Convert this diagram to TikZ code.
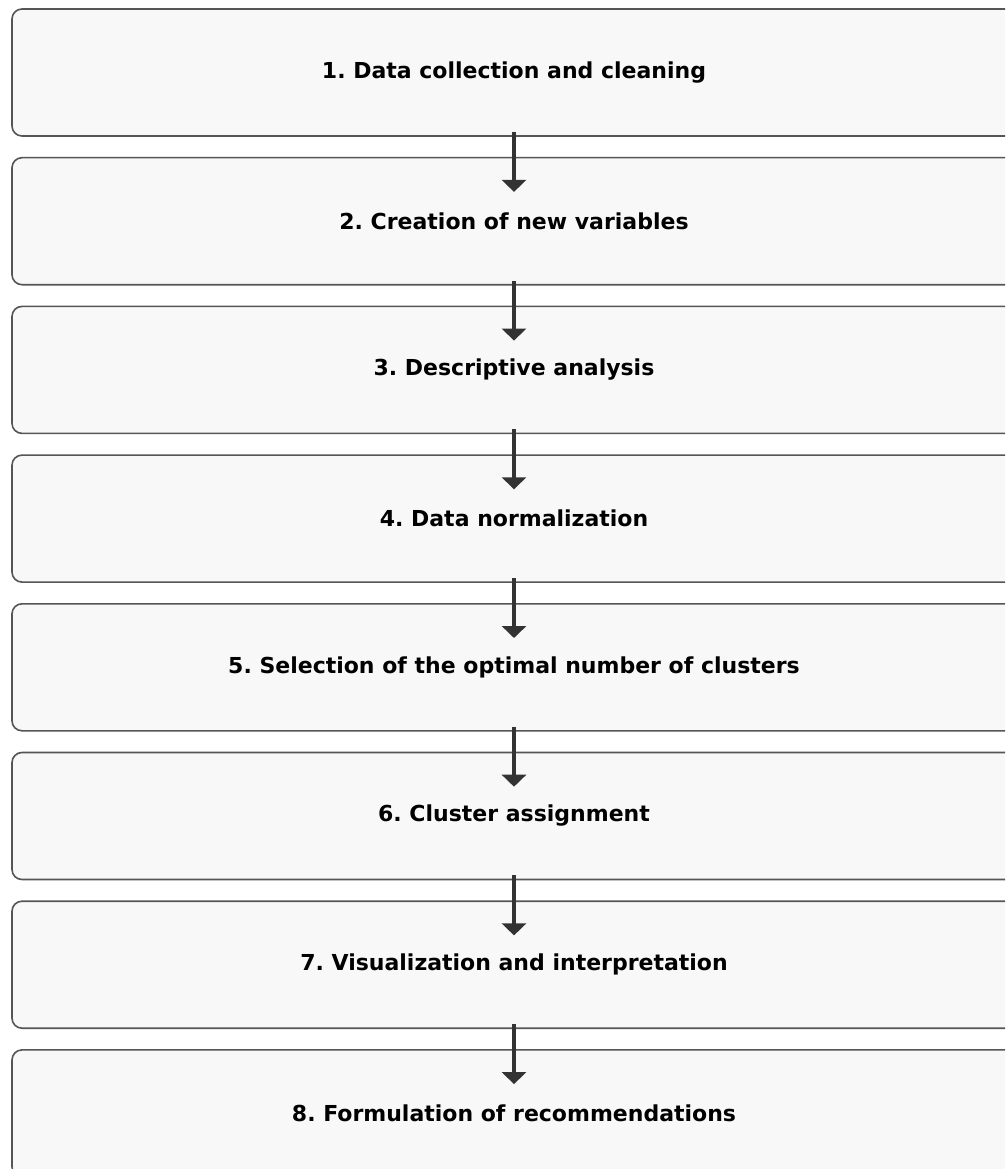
\documentclass[tikz,border=0pt]{standalone}
\usepackage{fontspec}
\setmainfont{DejaVu Sans}
\frenchspacing
\usepackage{tikz}
\usetikzlibrary{arrows.meta, positioning, shapes}
\definecolor{boxfill}{HTML}{F8F8F8}
\definecolor{boxline}{HTML}{555555}
\definecolor{arrowcol}{HTML}{333333}
\tikzstyle{process} = [rectangle, rounded corners=10pt, minimum width=1004pt, minimum height=127pt, text centered, draw=boxline, line width=1.6pt, fill=boxfill, font=\fontsize{22}{26}\selectfont\bfseries]
\tikzstyle{arrow} = [line width=4pt, draw=arrowcol, -{Triangle[width=24pt,length=12pt]}]

\begin{document}
\begin{tikzpicture}[x=1pt, y=1pt, node distance=148.7pt]
\clip (0,0) rectangle (1005,-1169);
\fill[white] (0,0) rectangle (1005,-1169);
\node (collect) [process] at (514,-72.5) {1. Data collection and cleaning};
\node (newvars) [process, below of=collect] {2. Creation of new variables};
\node (descr) [process, below of=newvars] {3. Descriptive analysis};
\node (norm) [process, below of=descr] {4. Data normalization};
\node (nclust) [process, below of=norm] {5. Selection of the optimal number of clusters};
\node (assign) [process, below of=nclust] {6. Cluster assignment};
\node (visual) [process, below of=assign] {7. Visualization and interpretation};
\node (recomm) [process, below of=visual] {8. Formulation of recommendations};
\draw [arrow] ([yshift=5pt]collect.south) -- ([yshift=-35pt]newvars.north);
\draw [arrow] ([yshift=5pt]newvars.south) -- ([yshift=-35pt]descr.north);
\draw [arrow] ([yshift=5pt]descr.south) -- ([yshift=-35pt]norm.north);
\draw [arrow] ([yshift=5pt]norm.south) -- ([yshift=-35pt]nclust.north);
\draw [arrow] ([yshift=5pt]nclust.south) -- ([yshift=-35pt]assign.north);
\draw [arrow] ([yshift=5pt]assign.south) -- ([yshift=-35pt]visual.north);
\draw [arrow] ([yshift=5pt]visual.south) -- ([yshift=-35pt]recomm.north);
\end{tikzpicture}
\end{document}
